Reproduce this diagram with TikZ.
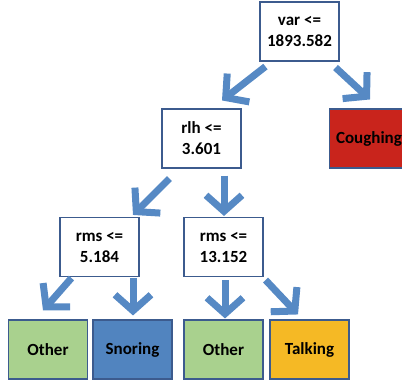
\documentclass[tikz,border=0pt]{standalone}
\usepackage{fontspec}
\setmainfont{Carlito}
\usetikzlibrary{arrows.meta}
\definecolor{arrblue}{HTML}{5689C4}
\definecolor{boxedge}{HTML}{3C5B8E}
\definecolor{leafgreen}{HTML}{A9D18E}
\definecolor{leafblue}{HTML}{5184BF}
\definecolor{leaforange}{HTML}{F5B925}
\definecolor{leafred}{HTML}{C9241C}
\tikzset{
  box/.style={draw=boxedge, line width=1.1pt, minimum width=79pt, minimum height=59pt,
    inner sep=0pt, align=center, font=\fontsize{17}{21}\selectfont\bfseries},
  splitbox/.style={box, fill=white},
  arr/.style={draw=arrblue, line width=7pt, line join=miter,
    -{Straight Barb[length=16pt,width=36pt]}},
}
\begin{document}
\begin{tikzpicture}[x=1pt,y=-1pt]
\useasboundingbox (0,0) rectangle (402,383);
\clip (0,0) rectangle (402,383);
\node[splitbox] (root) at (299.5,31.5) {var <=\\1893.582};
\node[splitbox] (rlh) at (201.5,138.5) {rlh <=\\3.601};
\node[box, fill=leafred] (cough) at (369,138.5) {Coughing};
\node[splitbox] (rmsa) at (99.5,247) {rms <=\\5.184};
\node[splitbox] (rmsb) at (223.5,247) {rms <=\\13.152};
\node[box, fill=leafgreen] (othera) at (48,349.5) {Other};
\node[box, fill=leafblue] (snoring) at (132.5,349.5) {Snoring};
\node[box, fill=leafgreen] (otherb) at (223.5,349.5) {Other};
\node[box, fill=leaforange] (talking) at (309.5,349.5) {Talking};
\draw[arr] ([shift={(6,5)}]root.south west) -- ([shift={(20.5,-8)}]rlh.north);
\draw[arr] ([shift={(-4,6)}]root.south east) -- ([shift={(1,-9)}]cough.north);
\draw[arr] ([shift={(8,10)}]rlh.south west) -- ([shift={(33.5,-2)}]rmsa.north);
\draw[arr] ([shift={(22.5,7)}]rlh.south) -- ([shift={(0.5,-1)}]rmsb.north);
\draw[arr] ([shift={(12,1)}]rmsa.south west) -- ([shift={(-5,-9)}]othera.north);
\draw[arr] ([shift={(33.5,1)}]rmsa.south) -- ([shift={(0.5,-4)}]snoring.north);
\draw[arr] ([shift={(1.5,3)}]rmsb.south) -- ([shift={(1.5,-1)}]otherb.north);
\draw[arr] ([shift={(2,3)}]rmsb.south east) -- ([shift={(-11.5,-5)}]talking.north);
\end{tikzpicture}
\end{document}
